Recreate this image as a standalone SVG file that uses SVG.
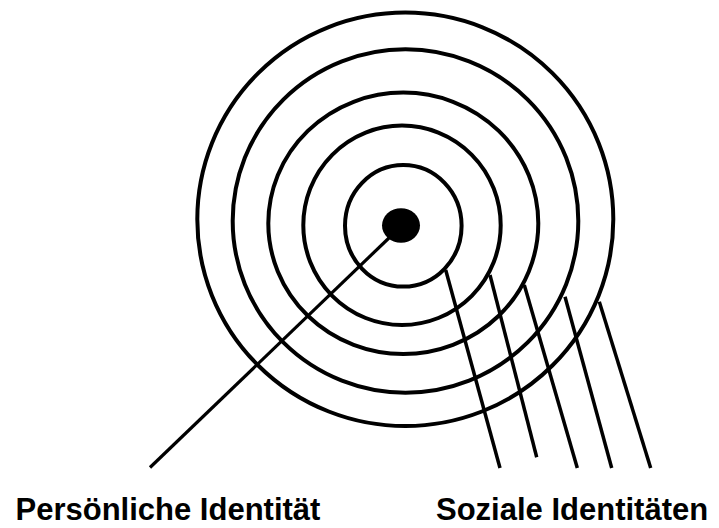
<svg xmlns="http://www.w3.org/2000/svg" width="719" height="528" viewBox="0 0 719 528">
<style>
.ring{fill:none;stroke:#000;stroke-width:4}
.ln{fill:none;stroke:#000;stroke-width:3.5;stroke-linecap:butt}
.lbl{font-family:"Liberation Sans",Arial,sans-serif;font-weight:bold;font-size:31px;fill:#000}
</style>
<rect width="719" height="528" fill="#fff"/>
<g id="rings">
<ellipse id="ring1" class="ring" cx="405.3" cy="219.3" rx="208" ry="206.7"/>
<ellipse id="ring2" class="ring" cx="405.5" cy="221" rx="172.8" ry="171.7"/>
<ellipse id="ring3" class="ring" cx="403.3" cy="223.3" rx="135" ry="130.7"/>
<ellipse id="ring4" class="ring" cx="402" cy="225.3" rx="98.7" ry="99.7"/>
<ellipse id="ring5" class="ring" cx="403.3" cy="225.8" rx="58.3" ry="60.8"/>
</g>
<g id="core">
<ellipse cx="401" cy="225.5" rx="19" ry="17.2" fill="#000"/>
</g>
<g id="connectors">
<line class="ln" x1="390" y1="237" x2="150" y2="467.5" style="stroke-width:3.2"/>
<line class="ln" x1="445.7" y1="270" x2="500" y2="468"/>
<line class="ln" x1="490" y1="275" x2="536.7" y2="457.3"/>
<line class="ln" x1="524.3" y1="285" x2="577.3" y2="468"/>
<line class="ln" x1="565" y1="296.7" x2="611.7" y2="468"/>
<line class="ln" x1="599.3" y1="301.7" x2="650.7" y2="468"/>
</g>
<g id="label-personal"><text class="lbl" x="15.5" y="520">Persönliche Identität</text></g>
<g id="label-social"><text class="lbl" x="436" y="520">Soziale Identitäten</text></g>
</svg>
